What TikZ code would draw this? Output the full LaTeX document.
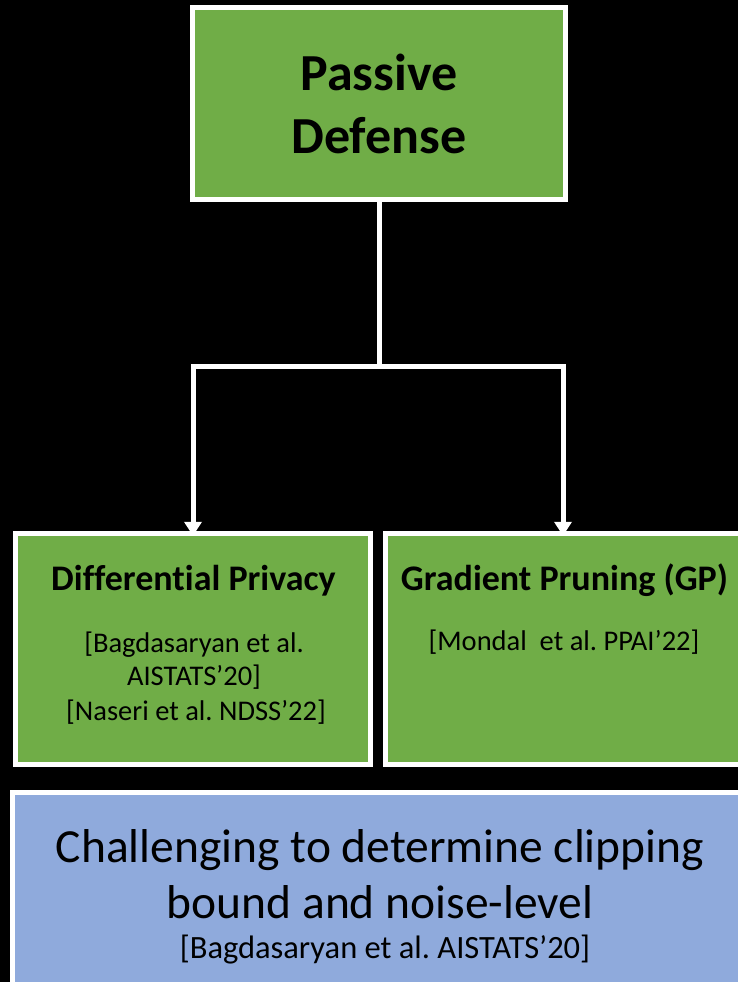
\documentclass[tikz,border=0pt]{standalone}
\usepackage{fontspec}
\setmainfont{Carlito}[Ligatures=NoCommon]
\usetikzlibrary{arrows.meta}
\definecolor{boxgreen}{HTML}{70AD47}
\definecolor{boxblue}{HTML}{8FAADC}
\tikzset{
  box/.style={draw=white, line width=5pt},
  conn/.style={draw=white, line width=5pt},
  tip/.style={-{Triangle[width=17pt,length=14pt]}},
  lbl/.style={anchor=base, inner sep=0pt, text=black},
}
\frenchspacing
\begin{document}
\begin{tikzpicture}[x=1pt,y=-1pt]
\fill[black] (0,0) rectangle (738,982);
\useasboundingbox (0,0) rectangle (738,982);
\clip (0,0) rectangle (738,982);
% boxes
\path[box, fill=boxgreen] (192.5,7.5) rectangle (565.5,199.5);
\node[inner sep=0pt, minimum width=373pt, minimum height=192pt] (top) at (379,103.5) {};
\path[box, fill=boxgreen] (15.5,533.5) rectangle (370.5,764.5);
\node[inner sep=0pt, minimum width=355pt, minimum height=231pt] (dp) at (193,649) {};
\path[box, fill=boxgreen] (385.5,533.5) rectangle (740.5,764.5);
\node[inner sep=0pt, minimum width=355pt, minimum height=231pt] (gp) at (563,649) {};
\path[box, fill=boxblue] (12.5,792.5) rectangle (747.5,1010);
\node[inner sep=0pt, minimum width=735pt, minimum height=217pt] (ch) at (380,901) {};
% connectors
\draw[conn] (top.south) -- ++(0,167) coordinate (j);
\draw[conn, tip] (j) -| ([yshift=-2.5pt]dp.north);
\draw[conn, tip] (j) -| ([yshift=-2.5pt]gp.north);
% texts
\node[lbl, font=\fontsize{52}{62}\selectfont\bfseries] (t1) at (379,90) {Passive};
\node[lbl, font=\fontsize{52}{62}\selectfont\bfseries] (t2) at (379,153) {Defense};
\node[lbl, font=\fontsize{36}{43}\selectfont\bfseries] (d1) at (193.5,590) {Differential Privacy};
\node[lbl, font=\fontsize{28.5}{34}\selectfont] (d2) at (194,652) {[Bagdasaryan et al.};
\node[lbl, font=\fontsize{28.5}{34}\selectfont] (d3) at (194,685) {AISTATS’20]};
\node[lbl, font=\fontsize{28.5}{34}\selectfont] (d4) at (196,720) {[Naseri et al. NDSS’22]};
\node[lbl, font=\fontsize{36}{43}\selectfont\bfseries] (g1) at (564.5,590) {Gradient Pruning (GP)};
\node[lbl, font=\fontsize{28.5}{34}\selectfont] (g2) at (564,650) {[Mondal\ \ et al. PPAI’22]};
\node[lbl, font=\fontsize{47.5}{57}\selectfont] (c1) at (380,862) {Challenging to determine clipping};
\node[lbl, font=\fontsize{47.5}{57}\selectfont] (c2) at (380,918) {bound and noise-level};
\node[lbl, font=\fontsize{32.5}{39}\selectfont] (c3) at (385,958) {[Bagdasaryan et al. AISTATS’20]};
\end{tikzpicture}
\end{document}
